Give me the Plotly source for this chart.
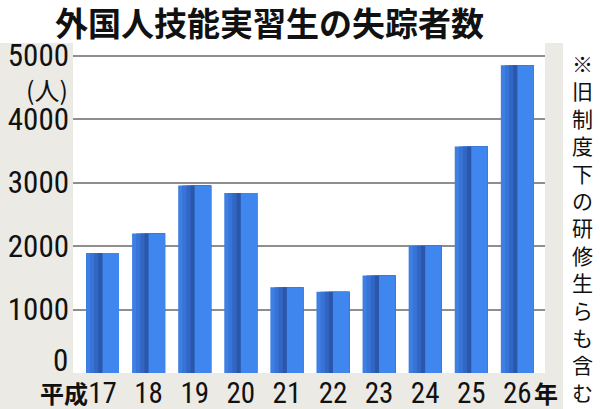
import plotly.graph_objects as go

# 外国人技能実習生の失踪者数 (平成17〜26年)
years = ["17", "18", "19", "20", "21", "22", "23", "24", "25", "26"]
missing = [1889, 2195, 2954, 2835, 1351, 1280, 1534, 2005, 3566, 4847]
y_ticks = [1000, 2000, 3000, 4000, 5000]

TITLE = "外国人技能実習生の失踪者数"
NOTE = "※旧制度下の研修生らも含む"

BEIGE = "#ebeae4"
NUM_FONT = "Liberation Sans Narrow, Arial Narrow, Roboto Condensed, sans-serif"
JP_FONT = "Noto Sans CJK JP"

xs = list(range(len(years)))

# bars: dark gradient on the left half, flat bright blue on the right half.
# each slice runs to the right edge of the bar so no gaps show between them
bar_w = 0.716
half = bar_w / 2
left_cols = ["#3e7fe4", "#3873d6", "#3266c4", "#2b57ab"]
n = len(left_cols)
step = half / n

fig = go.Figure()
for i, c in enumerate(left_cols):
    start = -half + i * step
    fig.add_trace(go.Bar(
        x=xs, y=missing, width=half - start, offset=start,
        marker=dict(color=c, line=dict(width=0)), showlegend=False, hoverinfo="skip"))
fig.add_trace(go.Bar(
    x=xs, y=missing, width=half, offset=0,
    marker=dict(color="#3f86ee", line=dict(width=0)), showlegend=False))

# beige frame around the white plot area
PL, PR, PT, PB = 73, 545, 43, 373
pw, ph = PR - PL, PB - PT


def px_x(p):
    return (p - PL) / pw


def px_y(p):
    return (PB - p) / ph


frame = [
    (px_x(0), 0, px_y(409), 1),
    (0, px_x(563), px_y(409), 0),
    (1, px_x(563), 0, 1),
]
for x0, x1, y0, y1 in frame:
    fig.add_shape(type="rect", xref="paper", yref="paper", x0=x0, x1=x1, y0=y0, y1=y1,
                  fillcolor=BEIGE, line=dict(width=0), layer="below")

anns = [
    dict(text="<b>" + TITLE + "</b>", xref="paper", yref="paper", x=px_x(269), y=px_y(22),
         xanchor="center", yanchor="middle", showarrow=False,
         font=dict(family=JP_FONT, size=33, color="#111")),
    dict(text="0", xref="paper", yref="y", x=0, y=0, xshift=-3, yshift=-8,
         xanchor="right", yanchor="bottom", showarrow=False,
         font=dict(family=NUM_FONT, size=31, color="#111")),
    dict(text="(人)", xref="paper", yref="y", x=0, y=4470, xshift=-3,
         xanchor="right", yanchor="middle", showarrow=False,
         font=dict(family=JP_FONT, size=25, color="#111")),
    dict(text="<b>平成</b>", xref="x", yref="paper", x=xs[0], y=0, xshift=-13, yshift=0,
         xanchor="right", yanchor="top", showarrow=False,
         font=dict(family=JP_FONT, size=24, color="#111")),
    dict(text="<b>年</b>", xref="x", yref="paper", x=xs[-1], y=0, xshift=15, yshift=0,
         xanchor="left", yanchor="top", showarrow=False,
         font=dict(family=JP_FONT, size=24, color="#111")),
]

# vertical note, one character per row
for k, ch in enumerate(NOTE):
    anns.append(dict(text=ch, xref="paper", yref="paper", x=px_x(582), y=px_y(63 + k * 27.4),
                     xanchor="center", yanchor="middle", showarrow=False,
                     font=dict(family=JP_FONT, size=21, color="#111")))

fig.update_layout(
    width=600, height=409,
    margin=dict(l=PL, r=600 - PR, t=PT, b=409 - PB, pad=0),
    paper_bgcolor="white", plot_bgcolor="white",
    barmode="overlay",
    showlegend=False,
    annotations=anns,
    xaxis=dict(
        range=[-0.64, 9.6], tickvals=xs, ticktext=years, automargin=False,
        showgrid=False, zeroline=False, showline=False, ticks="",
        tickfont=dict(family=NUM_FONT, size=29, color="#111"),
    ),
    yaxis=dict(
        range=[0, 5197], tickvals=y_ticks, ticktext=[str(v) for v in y_ticks],
        automargin=False,
        showgrid=True, gridcolor="#8e8e8e", gridwidth=1.5,
        zeroline=False, showline=False, ticks="", ticklabelstandoff=3,
        tickfont=dict(family=NUM_FONT, size=31, color="#111"),
    ),
)

# page has the default 8px body margin, drop it so the figure fills the window
fig.write_html("out.html", config={"displayModeBar": False},
               post_script="document.body.style.margin='0';")
